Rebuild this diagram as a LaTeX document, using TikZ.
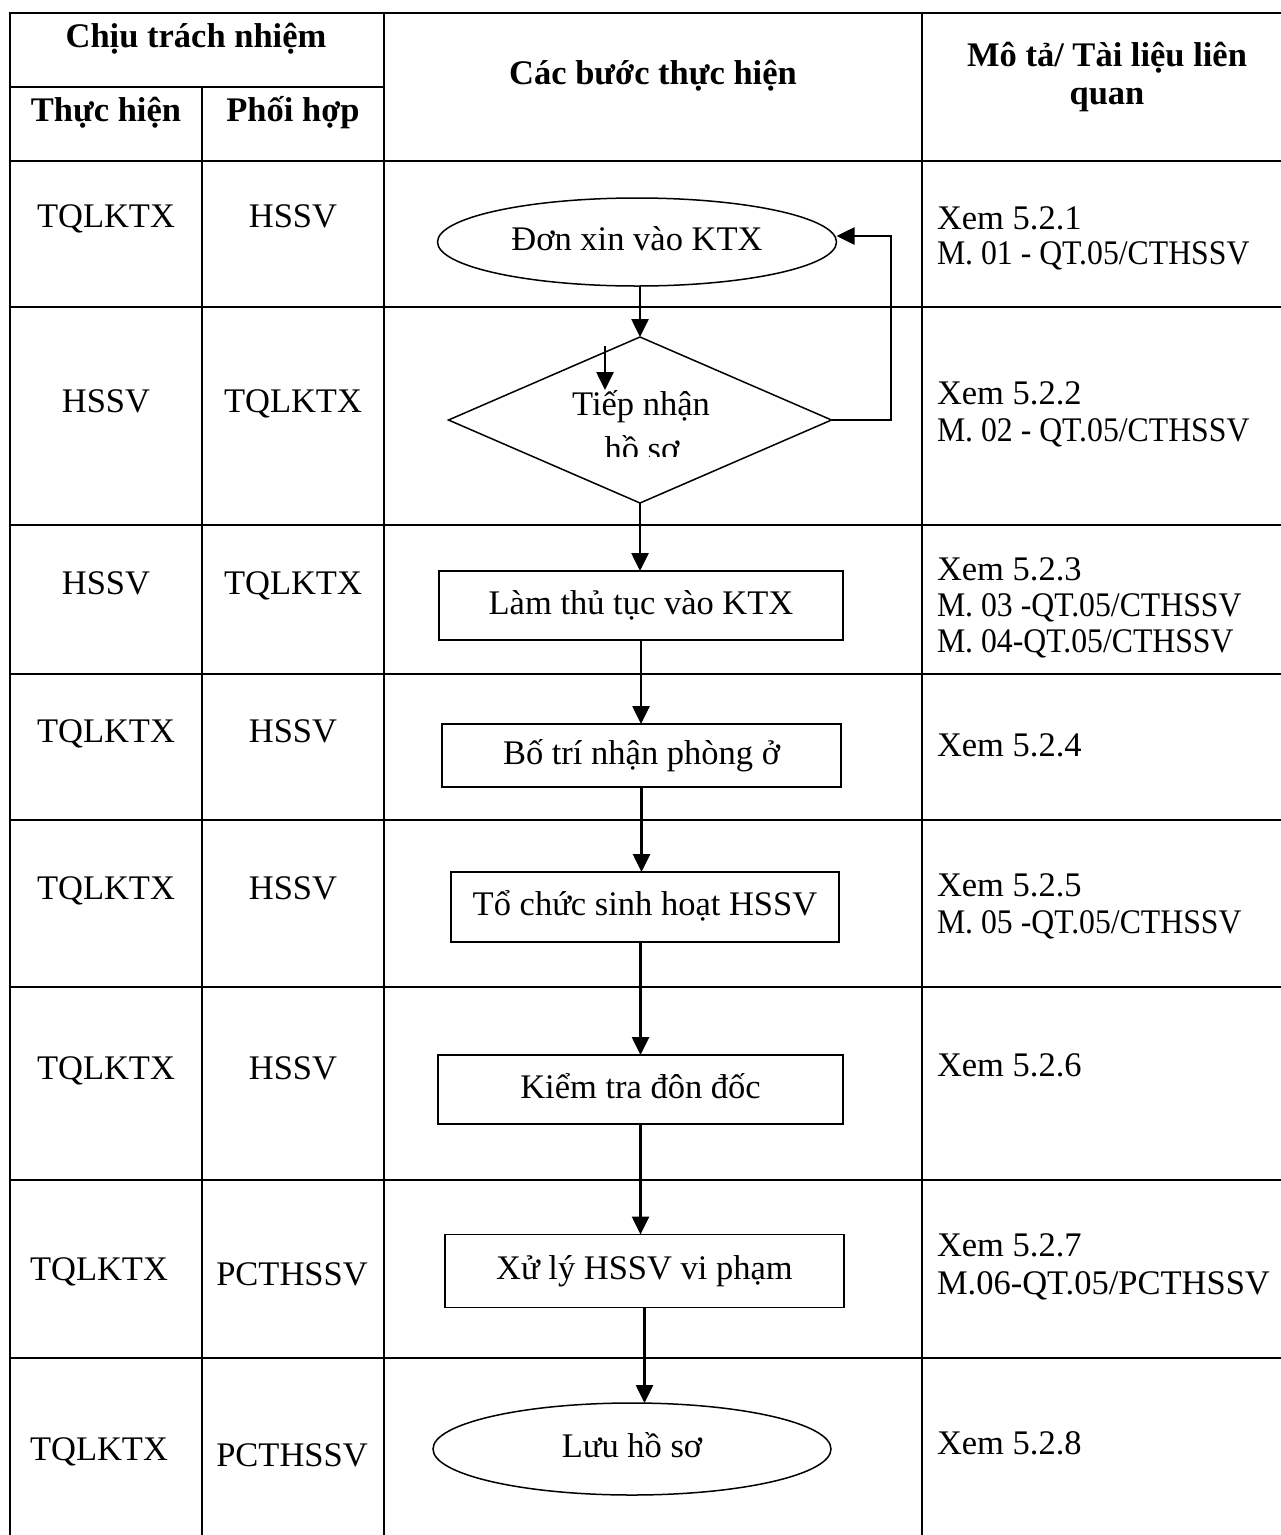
\documentclass[tikz,border=0pt]{standalone}
\usepackage{fontspec}
\setmainfont{Liberation Serif}
\newfontfamily\condfont{Liberation Serif}[FakeStretch=0.92]
\usetikzlibrary{shapes.geometric,arrows.meta}
\begin{document}
\begin{tikzpicture}[x=1pt,y=-1pt,
  every node/.style={inner sep=0pt, outer sep=0pt},
  txt/.style={font=\fontsize{34.5}{37}\selectfont},
  hdr/.style={font=\fontsize{34.5}{37}\selectfont\bfseries, anchor=base},
  tline/.style={line width=2.6pt, line cap=rect},
  shp/.style={draw, line width=1.5pt, txt, text height=24pt, text depth=7pt},
  boxn/.style={shp, rectangle},
  ell/.style={shp, ellipse},
  arr/.style={line width=2.6pt, -{Triangle[length=18pt,width=17pt]}},
  cell/.style={txt, anchor=base},
  desc/.style={txt, anchor=base west}]

\useasboundingbox (0,0) rectangle (1281,1535);

% table grid
\draw[tline] (10,13) -- (1281,13);
\draw[tline] (10,87) -- (384,87);
\draw[tline] (10,161) -- (1281,161);
\foreach \yy in {307,525,674,820,987,1180,1358} \draw[tline] (10,\yy) -- (1281,\yy);
\draw[tline] (10,13) -- (10,1540);
\draw[tline] (202,87) -- (202,1540);
\draw[tline] (384,13) -- (384,1540);
\draw[tline] (922,13) -- (922,1540);

% headers
\node[hdr] (hctn) at (196,47) {Chịu trách nhiệm};
\node[hdr] (hth) at (106,121) {Thực hiện};
\node[hdr] (hph) at (293,121) {Phối hợp};
\node[hdr] (hcb) at (653,84) {Các bước thực hiện};
\node[hdr] (hmt1) at (1107,66) {Mô tả/ Tài liệu liên};
\node[hdr] (hmt2) at (1107,104) {quan};

% responsibility cells
\node[cell] (a1) at (106,227) {TQLKTX};  \node[cell] (p1) at (293,227) {HSSV};
\node[cell] (a2) at (106,412) {HSSV};    \node[cell] (p2) at (293,412) {TQLKTX};
\node[cell] (a3) at (106,594) {HSSV};    \node[cell] (p3) at (293,594) {TQLKTX};
\node[cell] (a4) at (106,742) {TQLKTX};  \node[cell] (p4) at (293,742) {HSSV};
\node[cell] (a5) at (106,899) {TQLKTX};  \node[cell] (p5) at (293,899) {HSSV};
\node[cell] (a6) at (106,1079) {TQLKTX}; \node[cell] (p6) at (293,1079) {HSSV};
\node[cell] (a7) at (99,1280) {TQLKTX};  \node[cell] (p7) at (292,1285) {PCTHSSV};
\node[cell] (a8) at (99,1460) {TQLKTX};  \node[cell] (p8) at (292,1466) {PCTHSSV};

% description cells
\node[desc] (m1a) at (937,229) {Xem 5.2.1};
\node[desc] (m1b) at (937,264) {\condfont M. 01 - QT.05/CTHSSV};
\node[desc] (m2a) at (937,404) {Xem 5.2.2};
\node[desc] (m2b) at (937,441) {\condfont M. 02 - QT.05/CTHSSV};
\node[desc] (m3a) at (937,580) {Xem 5.2.3};
\node[desc] (m3b) at (937,616) {\condfont M. 03 -QT.05/CTHSSV};
\node[desc] (m3c) at (937,652) {\condfont M. 04-QT.05/CTHSSV};
\node[desc] (m4a) at (937,756) {Xem 5.2.4};
\node[desc] (m5a) at (937,896) {Xem 5.2.5};
\node[desc] (m5b) at (937,933) {\condfont M. 05 -QT.05/CTHSSV};
\node[desc] (m6a) at (937,1076) {Xem 5.2.6};
\node[desc] (m7a) at (937,1256) {Xem 5.2.7};
\node[desc] (m7b) at (937,1294) {M.06-QT.05/PCTHSSV};
\node[desc] (m8a) at (937,1454) {Xem 5.2.8};

% flow shapes
\node[ell, minimum width=399pt, minimum height=88pt] (e1) at (637,242) {Đơn xin vào KTX};
\node[draw, diamond, line width=1.5pt, minimum width=383pt, minimum height=166pt] (d) at (640,420) {};
\begin{scope}
  \clip (480,380) rectangle (800,456);
  \node[cell] (dt1) at (641,415) {Tiếp nhận};
  \node[cell] (dt2) at (642,460) {hồ sơ};
\end{scope}
\node[boxn, minimum width=404pt, minimum height=69pt] (b1) at (641,605.5) {Làm thủ tục vào KTX};
\node[boxn, minimum width=399pt, minimum height=63pt] (b2) at (641.5,755.5) {Bố trí nhận phòng ở};
\node[boxn, minimum width=388pt, minimum height=70pt] (b3) at (645,907) {Tổ chức sinh hoạt HSSV};
\node[boxn, minimum width=405pt, minimum height=69pt] (b4) at (640.5,1089.5) {Kiểm tra đôn đốc};
\node[boxn, minimum width=399pt, minimum height=73pt] (b5) at (644.5,1271) {Xử lý HSSV vi phạm};
\node[ell, minimum width=398pt, minimum height=92pt] (e2) at (632,1449) {Lưu hồ sơ};

% connectors
\draw[arr] (d.north |- e1.south) -- (d.north);
\draw[arr] (d.south) -- (d.south |- b1.north);
\draw[arr] (b1.south) -- (b1.south |- b2.north);
\draw[arr] (b2.south) -- (b2.south |- b3.north);
\draw[arr] (b4.north |- b3.south) -- (b4.north);
\draw[arr] (b4.south) -- (b4.south |- b5.north);
\draw[arr] (b5.south) -- (b5.south |- e2.north);
\coordinate (fb) at (891,236);
\draw[arr] (d.east) -| (fb) -- (e1.east |- fb);
\coordinate (s1) at (605,346);
\coordinate (s2) at (605,390);
\draw[arr] (s1) -- (s2);
\end{tikzpicture}
\end{document}
